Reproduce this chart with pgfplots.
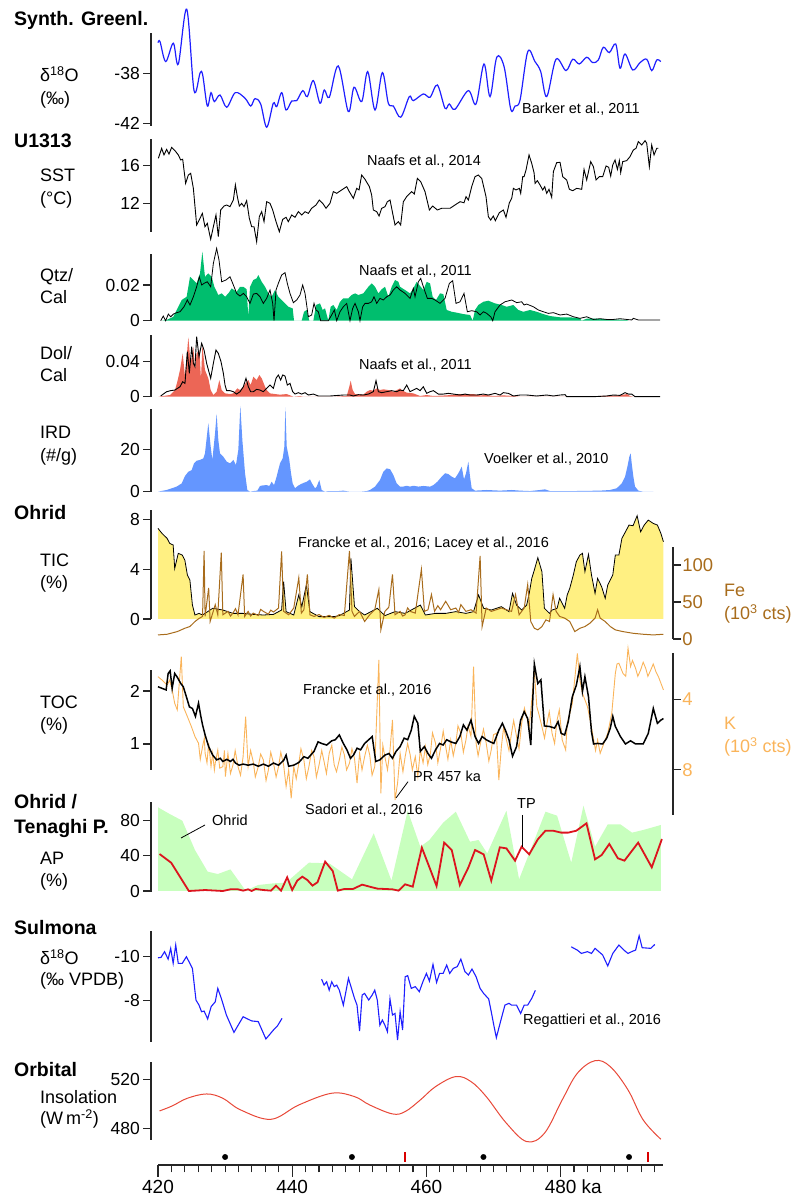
\documentclass[border=0pt]{standalone}
\usepackage{fontspec}
\setmainfont{Liberation Sans}
\usepackage{pgfplots}
\usepackage{pgfplotstable}
\pgfplotsset{compat=1.18}
\newcommand\fs[1]{\fontsize{#1bp}{#1bp}\selectfont}

\definecolor{grnblue}{RGB}{30,30,255}
\definecolor{qtzgreen}{RGB}{0,190,110}
\definecolor{dolred}{RGB}{236,102,86}
\definecolor{irdblue}{RGB}{100,150,255}
\definecolor{ticyellow}{RGB}{255,240,130}
\definecolor{febrown}{RGB}{168,108,28}
\definecolor{korange}{RGB}{250,180,90}
\definecolor{apgreen}{RGB}{200,255,190}
\definecolor{apred}{RGB}{220,20,30}
\definecolor{insred}{RGB}{232,72,56}

% --- Synthetic Greenland d18O
\pgfplotstableread{
x y
420.0 -35.55
420.3 -35.47
421.15 -37.07
422.28 -35.6
423.03 -37.26
424.28 -32.88
425.37 -39.39
426.26 -38.0
426.66 -38.14
427.35 -40.62
427.9 -39.55
428.39 -40.27
429.24 -39.74
430.24 -40.72
431.52 -39.55
432.97 -40.0
433.82 -40.62
434.46 -40.03
435.3 -40.46
436.2 -42.32
437.18 -40.4
437.69 -40.67
438.44 -39.55
439.08 -40.94
439.93 -40.22
440.67 -40.19
441.57 -39.39
442.25 -39.87
443.15 -38.59
444.14 -40.4
444.78 -39.34
445.53 -39.92
446.87 -37.42
448.36 -41.07
449.21 -39.12
450.36 -40.27
451.25 -37.87
452.34 -40.94
453.43 -37.95
454.32 -40.4
455.07 -40.62
456.17 -41.52
457.45 -39.87
458.05 -40.19
459.54 -39.66
460.54 -39.92
461.63 -38.94
462.77 -40.8
463.41 -40.46
464.26 -40.88
466.24 -39.39
467.39 -40.46
468.58 -37.26
469.48 -39.87
470.48 -36.72
471.57 -37.47
472.57 -40.88
473.21 -40.62
473.95 -40.14
475.1 -36.27
476.18 -37.07
477.03 -37.87
477.93 -39.87
479.31 -36.88
480.8 -37.79
481.8 -36.88
482.78 -37.26
483.89 -36.72
484.78 -37.15
485.62 -36.94
486.36 -35.92
487.26 -36.35
488.21 -35.66
488.85 -37.6
489.6 -36.46
490.75 -37.74
491.83 -37.15
492.83 -36.88
493.58 -37.79
494.32 -36.94
494.92 -37.07
}\greenl

% --- U1313 SST
\pgfplotstableread{
x y
420.05 16.78
420.55 17.85
420.89 17.14
421.29 17.74
421.64 17.24
422.04 17.95
422.53 17.6
423.03 17.14
423.38 16.61
423.68 16.68
424.12 14.12
424.52 15.01
424.87 15.19
425.27 13.59
425.76 9.69
426.26 10.40
426.61 10.93
427.0 9.51
427.35 9.87
427.85 8.17
428.25 9.51
428.64 10.76
428.99 8.45
429.34 11.29
429.84 11.71
430.23 11.82
430.73 11.64
431.23 12.35
431.53 13.95
431.82 12.71
432.12 11.71
432.47 11.99
432.82 11.64
433.21 12.28
433.61 10.40
433.96 9.51
434.31 9.51
434.7 7.92
435.1 10.58
435.45 11.11
435.8 10.05
436.19 12.17
436.69 12.0
437.09 11.29
437.59 10.05
438.08 8.98
438.58 10.29
439.08 10.51
439.42 10.05
439.92 10.76
440.42 10.51
440.91 11.11
441.41 10.76
441.91 11.11
442.4 10.93
442.9 11.47
443.55 11.82
444.04 12.35
444.54 12.0
445.04 11.47
445.63 12.0
446.13 13.24
446.63 13.06
447.37 13.42
448.12 13.77
448.51 13.24
449.11 12.53
449.61 13.59
449.96 13.42
450.35 15.01
450.85 14.55
451.5 13.77
451.84 12.88
452.09 11.29
452.59 11.11
452.94 10.65
453.33 11.47
453.83 11.64
454.18 12.17
454.58 12.35
454.97 10.93
455.32 9.69
455.82 10.05
456.16 9.69
456.56 12.17
457.06 12.71
457.8 13.24
458.2 12.99
458.65 14.65
459.15 14.30
459.79 13.24
460.44 11.29
460.93 11.71
461.63 11.29
462.28 11.47
463.52 11.47
464.26 11.82
465.01 12.17
465.6 12.06
465.9 12.71
466.25 12.35
466.75 13.77
467.24 14.83
467.74 15.01
468.24 14.65
468.88 12.71
469.23 10.58
469.58 10.22
469.97 10.65
470.27 10.15
470.87 11.0
471.47 11.29
471.86 10.51
472.36 12.06
472.71 12.53
472.96 13.59
473.35 13.42
473.85 13.59
474.05 13.06
474.35 14.83
474.55 14.83
474.84 15.54
475.29 17.14
475.69 16.25
476.04 15.26
476.19 14.12
476.53 14.41
476.93 13.95
477.33 13.42
477.63 13.77
477.92 13.06
478.27 13.49
478.67 12.64
478.92 15.37
479.41 16.32
479.91 16.36
480.31 14.83
480.9 14.48
481.3 13.49
481.8 13.34
482.39 13.59
483.14 13.49
483.49 15.61
483.88 14.48
484.48 16.43
484.88 15.9
485.28 14.48
485.77 14.83
486.27 14.83
486.77 15.97
487.16 15.83
487.46 14.9
487.76 16.07
488.11 16.61
488.46 15.61
488.75 16.54
488.95 15.26
489.25 16.43
489.85 16.54
490.34 16.96
490.84 17.67
491.24 17.85
491.58 18.56
492.08 18.2
492.58 18.66
492.83 18.38
493.22 15.9
493.57 18.2
493.92 17.14
494.32 17.85
494.57 17.85
}\sst

% --- Qtz/Cal: line and shaded series
\pgfplotstableread{
x y
420.4 0
420.79 0.0026
421.14 0
421.54 0.0037
421.89 0.0022
422.29 0.0037
422.78 0.0045
423.28 0.005
423.87 0.0078
424.37 0.0116
424.77 0.0088
425.27 0.0134
425.76 0.019
426.16 0.0246
426.51 0.02
426.86 0.0209
427.35 0.0218
427.85 0.019
428.25 0.0321
428.74 0.0405
429.09 0.034
429.49 0.0218
430.13 0.0228
430.73 0.0246
431.23 0.02
431.72 0.0153
432.22 0.0138
432.72 0.0153
433.21 0.0134
433.71 0.0097
434.21 0.0149
434.7 0.0153
435.2 0.0134
435.7 0.0097
436.19 0.0125
436.69 0.0172
437.09 0.0097
437.29 0
437.59 0.0172
437.93 0.0209
438.43 0.0256
438.93 0.0269
439.27 0.0209
439.67 0.0153
440.17 0.0101
440.67 0.0116
441.16 0.0144
441.56 0.02
441.91 0.0153
442.4 0.0022
442.9 0.0032
443.25 0.0097
443.55 0.006
443.89 0.005
444.24 0
445.38 0
445.88 0.0032
446.28 0.006
446.63 0
447.12 0.005
447.62 0.0078
448.12 0.0097
448.61 0
449.01 0.0069
449.36 0.0097
449.86 0.005
450.1 0
450.5 0.0078
450.85 0.0097
451.35 0.0097
451.84 0.0106
452.19 0.0134
452.59 0.0097
453.08 0.0125
453.58 0.0116
454.08 0.0134
454.58 0.0144
455.07 0.0172
455.57 0.019
456.07 0.0172
456.81 0.0153
457.56 0.0125
458.05 0.0181
458.3 0.0134
458.8 0.0218
459.15 0.0237
459.54 0.019
460.14 0.0125
460.78 0.0125
461.28 0.0116
462.03 0.0097
462.77 0.0125
463.42 0.0209
463.91 0.0224
464.41 0.0097
465.01 0.0106
465.6 0.0153
466.1 0.005
466.75 0.0056
467.49 0.005
467.99 0.0032
468.49 0.005
468.98 0.0041
469.58 0.0022
469.88 0
470.22 0.005
470.97 0.0088
471.71 0.0106
472.71 0.0116
473.45 0.0101
474.2 0.0106
474.55 0.0088
474.94 0.0093
475.94 0.0078
476.68 0.006
477.43 0.005
478.17 0.0041
478.92 0.0045
479.91 0.0032
480.9 0.0037
481.9 0.0022
482.89 0.0013
483.88 0.0022
484.88 0.0007
485.87 0.0011
486.87 0.0007
487.86 0.0007
488.85 0.0011
489.85 0.0007
490.59 0.0004
490.84 0.0013
491.58 0.0004
492.83 0.0004
494.81 0.0004
}\qtzline
\pgfplotstableread{
x y
420.55 0
421.29 0.0004
422.29 0.0022
422.78 0.006
423.53 0.0116
424.27 0.0134
424.77 0.0246
425.27 0.0228
425.76 0.0209
426.26 0.0265
426.61 0.0387
427.0 0.0246
427.5 0.0265
428.0 0.0246
428.4 0.019
428.99 0.0144
429.49 0.0153
429.99 0.0134
430.48 0.0153
430.98 0.0181
431.72 0.0162
432.22 0.019
432.72 0.019
433.21 0.0176
433.46 0.0022
433.71 0.019
434.21 0.0228
434.7 0.0237
434.95 0.0256
435.45 0.0218
435.95 0.019
436.44 0.0153
436.94 0.0134
437.44 0.0172
437.93 0.0134
438.43 0.0116
438.93 0.0097
439.42 0.0078
440.07 0.0069
440.27 0
441.41 0
441.76 0.005
442.16 0.006
442.55 0
443.15 0
443.55 0.0088
444.14 0.0097
444.54 0.006
444.89 0.0069
445.38 0
445.73 0.0078
446.13 0.0088
446.63 0.006
447.12 0.0106
447.62 0.0125
448.37 0.0125
448.86 0.0144
449.36 0.0153
449.86 0.0144
450.6 0.0153
451.35 0.019
451.84 0.0209
452.34 0.019
452.84 0.0153
453.33 0.0176
453.83 0.019
454.33 0.0134
454.82 0.019
455.32 0.0228
455.82 0.0218
456.07 0.019
456.81 0.0172
457.56 0.0153
458.05 0.0181
458.55 0.0218
459.15 0.019
459.54 0.0172
460.04 0.0218
460.54 0.0209
460.93 0.0134
461.43 0.0116
462.03 0.0153
462.52 0.0149
463.02 0.006
463.77 0.005
464.51 0.0045
465.5 0.0037
466.5 0.0032
466.9 0
467.24 0.006
467.74 0.0088
468.49 0.0106
469.23 0.0112
470.22 0.0097
471.22 0.0088
471.96 0.0078
472.96 0.0088
473.7 0.006
474.45 0.005
475.44 0.006
476.43 0.005
477.43 0.0037
478.42 0.0026
479.91 0.0019
481.4 0.0019
482.89 0.0013
483.14 0
483.88 0.0011
485.38 0.0011
487.86 0.0007
489.85 0.0004
490.1 0
}\qtzfill

% --- Dol/Cal
\pgfplotstableread{
x y
420.4 0.0008
420.79 0.003
421.29 0.0057
421.89 0.0069
422.53 0.0076
423.28 0.0114
423.68 0.0171
424.02 0.0152
424.37 0.0514
424.67 0.0267
425.02 0.0571
425.27 0.0381
425.51 0.0343
425.76 0.0686
426.11 0.0457
426.51 0.061
426.86 0.0533
427.25 0.0381
427.65 0.0267
427.85 0.021
428.25 0.0381
428.64 0.0533
428.99 0.0495
429.39 0.04
429.74 0.0267
429.99 0.0133
430.23 0.0069
430.73 0.0069
431.23 0.0057
431.72 0.003
432.22 0.0057
432.72 0.0114
433.11 0.021
433.46 0.0114
433.81 0.0057
434.21 0.0057
434.7 0.0084
435.2 0.0076
435.7 0.0057
436.19 0.0095
436.69 0.0133
437.19 0.0095
437.59 0.021
437.93 0.0248
438.28 0.019
438.58 0.0248
438.93 0.0236
439.27 0.0133
439.67 0.0152
440.07 0.0057
440.42 0.003
440.91 0.0046
441.41 0.003
441.91 0.0046
442.4 0.0019
443.15 0.003
443.89 0.0008
445.63 0.0008
447.62 0.0019
448.61 0.0019
449.11 0.0008
449.86 0.0023
450.6 0.0019
451.35 0.003
452.09 0.0057
452.49 0.0183
452.84 0.0057
453.33 0.0046
454.08 0.0057
454.82 0.0069
455.57 0.0057
456.07 0.0076
456.56 0.0069
457.06 0.0133
457.56 0.0057
458.05 0.0076
458.55 0.0095
459.05 0.0069
459.54 0.0114
460.04 0.0038
460.54 0.0057
461.03 0.0069
461.78 0.003
462.52 0.003
463.27 0.0038
464.01 0.003
465.01 0.0019
465.75 0.003
466.5 0.0019
467.49 0.0019
468.49 0.003
469.23 0.0019
470.22 0.0038
470.97 0.0019
471.47 0.0046
472.21 0.0038
472.96 0.0008
473.95 0.0019
474.94 0.0019
476.43 0.0008
477.92 0.0019
478.92 0.0008
479.91 0.0019
480.66 0.0023
480.9 0
484.88 0
486.87 0.0008
487.86 0.0019
488.85 0.0015
489.6 0.0046
490.1 0.003
490.59 0.003
491.09 0
494.81 0
}\dolline
\pgfplotstableread{
x y
420.05 0
420.79 0.0008
421.79 0.0019
422.53 0.0076
422.88 0.0171
423.28 0.0305
423.68 0.0495
424.02 0.0229
424.52 0.0678
424.87 0.0381
425.27 0.0571
425.51 0.0305
425.76 0.0495
426.16 0.0533
426.41 0.019
426.61 0.059
427.0 0.0305
427.5 0.021
427.85 0.0076
428.25 0.0019
428.74 0.0057
429.14 0.019
429.49 0.0076
429.99 0.0038
430.73 0.003
431.23 0.0038
431.82 0.0095
432.22 0.0076
432.72 0.0114
433.11 0.016
433.46 0.019
433.81 0.0133
434.21 0.0229
434.7 0.019
435.1 0.0248
435.45 0.021
435.95 0.0114
436.19 0.0076
436.69 0.0038
437.44 0.003
438.18 0.0023
439.18 0.003
439.92 0.0008
440.17 0
441.16 0.0008
441.66 0
446.13 0
448.12 0.0008
448.51 0.0114
448.71 0.0183
449.01 0.0076
449.36 0.003
450.6 0.0023
451.1 0.0057
451.59 0.0076
452.09 0.0069
452.59 0.0095
453.08 0.0076
453.58 0.0084
454.33 0.0076
455.07 0.0057
455.82 0.0084
456.07 0.0095
456.31 0.0076
457.06 0.0046
458.05 0.0038
459.05 0.0008
460.04 0.0019
461.03 0.0008
463.02 0.0015
465.01 0.003
467.0 0.003
467.99 0.0015
468.98 0.0019
469.97 0.0008
471.47 0.0015
472.96 0.0008
473.95 0
484.88 0
485.87 0.0008
488.85 0.0015
489.85 0.003
490.34 0.0008
490.84 0
}\dolfill

% --- IRD
\pgfplotstableread{
x y
420.0 0
420.79 0.5
421.29 0.8
422.04 1.6
422.78 2.4
423.53 3.9
424.02 7.4
424.52 9.4
425.02 10.2
425.37 13.4
425.76 14.6
426.26 15.0
426.76 15.7
427.0 18.1
427.5 32.3
427.85 21.3
428.1 15.0
428.5 27.6
428.74 36.7
428.99 24.4
429.24 18.1
429.74 16.5
430.23 14.2
430.73 13.4
431.23 15.0
431.62 12.6
431.97 19.7
432.27 40.5
432.57 24.4
432.97 8.7
433.31 0.8
433.71 0
434.21 0.3
434.8 0.5
435.2 2.7
435.7 3.0
436.19 3.1
436.59 2.7
436.94 4.7
437.29 3.1
437.68 7.1
438.18 13.4
438.58 15.7
438.83 21.3
438.98 39.8
439.18 21.3
439.57 15.0
439.82 8.7
440.07 3.9
440.42 1.6
440.81 2.7
441.31 3.6
441.81 4.3
442.16 4.7
442.65 5.8
442.95 3.9
443.4 1.6
443.65 2.4
444.04 5.5
444.39 0.8
444.89 0
445.38 0.3
446.88 0.3
447.62 0.5
448.61 0
450.1 0
451.1 0.3
451.59 0.8
452.34 2.4
453.08 5.5
453.58 9.4
454.08 11.0
454.58 10.6
455.07 7.9
455.57 3.9
456.07 2.4
456.56 2.4
457.06 2.8
457.56 2.4
458.05 2.8
458.8 2.4
459.54 2.7
460.54 2.4
461.03 3.1
461.63 4.7
462.28 7.1
462.77 8.7
463.27 8.3
463.77 7.1
464.26 6.3
464.76 8.7
465.26 11.8
465.6 5.8
465.9 8.7
466.25 14.2
466.5 7.1
466.75 1.6
467.24 0.5
468.98 0.8
470.97 0.5
472.71 0.8
473.95 0.5
475.44 0.3
476.93 0.8
477.68 1.1
478.42 0.3
481.9 0.3
485.87 0.5
487.36 0.8
488.35 1.6
489.1 3.9
489.6 7.1
489.95 11.8
490.24 16.5
490.44 18.1
490.59 13.4
490.84 7.1
491.09 2.4
491.58 0.5
492.33 0
493.82 0
}\ird

% --- Ohrid TIC
\pgfplotstableread{
x y
420.0 7.27
420.6 6.87
421.36 6.47
421.74 6.07
422.26 5.94
422.49 4.06
423.02 5.27
423.62 5.13
424.0 4.73
424.38 3.53
424.75 3.13
425.13 1.12
425.51 0.32
426.11 0.45
426.64 0.32
427.4 0.59
428.15 0.86
429.66 0.72
431.17 0.45
432.68 0.45
434.19 0.37
435.7 0.32
437.21 0.37
438.42 0.72
438.72 2.99
439.09 0.59
440.23 0.32
440.98 1.93
441.43 0.99
442.11 2.73
442.64 0.59
444.0 0.19
446.26 0.19
447.02 0.27
448.53 0.72
448.75 4.87
449.28 0.99
450.04 0.59
450.79 0.32
452.68 0.86
453.81 0.27
455.32 0.59
456.83 0.45
459.09 1.12
459.85 0.32
461.36 0.45
462.87 0.45
464.38 0.59
465.89 0.45
467.02 0.59
467.77 1.93
468.53 0.86
469.66 0.72
471.17 0.99
472.3 0.59
472.83 2.06
473.43 1.12
474.19 0.72
474.94 1.12
475.32 2.06
475.7 3.26
476.08 3.93
476.6 4.92
477.21 3.8
477.58 0.86
478.34 0.45
478.72 0.72
479.47 0.86
479.85 1.66
480.6 0.86
480.98 1.93
481.36 2.46
481.89 3.53
482.34 4.6
482.87 5.13
483.25 5.27
483.62 3.8
484.15 5.19
484.6 3.53
485.13 2.06
485.51 3.26
486.11 2.59
486.64 1.66
487.02 2.73
487.77 3.53
488.15 5.13
488.68 5.13
489.13 6.47
489.66 7.0
490.19 7.54
490.79 7.49
491.4 8.29
491.92 7.0
492.45 7.54
493.06 7.94
493.81 7.67
494.42 7.54
494.94 6.87
495.32 6.2
}\tic

% --- Ohrid Fe (10^3 cts)
\pgfplotstableread{
x y
420.0 5.5
421.36 6.4
422.87 10
424.0 14.5
424.75 16.8
425.51 23.6
426.04 27.3
426.64 30.5
426.87 119.1
427.02 30.5
427.55 69.1
427.77 23.6
428.15 35
428.53 46.4
428.91 32.7
429.43 116.8
429.66 32.7
430.42 37.3
430.8 31
431.17 35
431.55 41
431.92 32.7
432.68 87.3
432.91 30.5
433.43 37.3
433.8 31
434.19 35
434.94 31.8
435.3 40
435.7 37.3
436.45 33.6
436.8 39
437.21 36.4
437.96 41.8
438.42 118.2
438.72 37.3
439.47 32.7
440.23 41.8
440.98 82.7
441.36 35
441.74 39.5
442.26 87.3
442.64 32.7
443.25 30.5
444.0 33
444.75 29.1
445.5 32
446.26 28.2
447.0 33
447.77 31.8
448.53 119.1
448.91 37.3
449.28 30.5
450.04 37.3
450.79 23.6
451.55 32.7
452.3 39.5
452.91 66.8
453.21 12.3
453.81 37.3
454.4 43
454.94 87.3
455.32 32.7
456.08 37.3
456.45 31
456.83 32.7
457.2 42
457.58 37.3
458.34 35
459.25 94.1
459.7 37.3
460.23 39.5
460.75 60
461.21 37.3
461.7 45
462.11 39.5
462.87 50.9
463.62 39.5
464.38 41.8
464.8 36
465.13 46.4
465.89 37.3
466.64 39.5
467.4 35
468.0 112.3
468.3 16.8
468.91 41.8
469.66 37.3
470.42 39.5
471.17 41.8
471.92 39.5
472.68 37.3
473.28 60
473.81 32.7
474.57 41.8
475.09 73.6
475.55 23.6
476.08 14.5
476.6 12.3
477.21 16.8
477.81 25.9
478.34 23.6
478.87 60
479.32 37.3
479.85 30.5
480.6 28.2
481.36 23.6
482.11 10
482.87 14.5
483.62 16.8
484.38 21.4
485.13 28.2
485.51 39.5
485.89 28.2
486.64 23.6
487.4 16.8
488.15 12.3
489.28 10
490.79 7.7
492.3 6.4
493.81 5.5
495.32 6.4
}\fe

% --- Ohrid TOC
\pgfplotstableread{
x y
420.0 2.08
420.6 2.05
421.21 2.02
421.51 2.33
421.81 2.38
422.11 2.05
422.49 2.33
422.87 2.26
423.4 2.14
423.77 2.08
424.23 1.89
424.68 1.7
425.13 1.67
425.58 1.52
426.04 1.77
426.34 1.55
426.64 1.36
427.02 1.17
427.55 0.95
428.15 0.79
428.75 0.7
429.28 0.73
429.66 0.67
430.26 0.71
430.79 0.67
431.17 0.71
431.55 0.64
432.08 0.6
432.68 0.62
433.43 0.6
434.19 0.62
434.94 0.58
435.7 0.62
436.45 0.58
437.21 0.64
437.96 0.6
438.72 0.69
439.09 0.79
439.47 0.58
440.23 0.6
440.98 0.65
441.74 0.76
442.34 0.73
443.25 0.86
443.85 1.04
444.38 1.01
445.13 0.98
445.89 1.06
446.42 1.08
447.02 1.17
447.62 1.01
448.15 0.89
448.68 0.73
449.13 0.79
449.66 0.92
450.19 0.89
450.79 1.01
451.4 1.08
451.92 1.14
452.45 0.67
453.06 0.7
453.81 0.79
454.42 0.82
454.94 0.73
455.47 0.86
456.08 0.95
456.68 1.11
457.21 1.08
457.74 1.26
458.19 1.52
458.72 1.39
459.09 0.86
459.7 0.95
460.23 0.82
460.75 0.73
461.36 0.89
461.96 1.01
462.49 0.98
463.02 1.08
463.62 1.04
464.38 1.01
464.98 1.14
465.51 1.36
466.04 1.26
466.64 1.45
467.25 1.14
467.77 1.01
468.3 1.14
468.91 1.08
469.51 1.04
470.04 1.01
470.79 1.26
471.32 1.39
471.77 1.26
472.3 1.08
472.83 0.77
473.43 0.95
474.04 1.45
474.57 1.61
475.09 1.48
475.55 0.98
476.08 2.51
476.6 2.14
477.06 2.21
477.58 1.34
478.34 1.33
479.09 1.3
479.62 1.42
480.08 1.2
480.6 1.17
481.13 1.42
481.74 1.89
482.34 2.11
482.87 2.46
483.25 1.99
483.62 2.27
484.15 1.89
484.6 1.23
484.91 1.0
485.51 1.01
486.26 1.0
486.87 1.11
487.4 1.3
487.77 1.52
488.15 1.33
488.91 1.14
489.66 1.0
490.42 1.06
491.17 1.0
492.3 1.0
493.06 1.2
493.81 1.67
494.42 1.39
494.94 1.45
495.32 1.48
}\toc

% --- Ohrid K (10^3 cts)
\pgfplotstableread{
x y
420.0 2.72
420.6 2.91
421.36 3.19
421.74 2.91
422.11 3.47
422.49 4.23
422.87 4.6
423.47 1.58
423.77 4.42
424.38 4.98
424.98 5.55
425.51 6.11
426.04 6.49
426.3 7.4
426.64 6.68
426.9 6.2
427.02 7.06
427.3 7.6
427.55 6.49
427.9 7.8
428.15 7.06
428.4 8.0
428.53 7.62
428.91 6.87
429.2 7.9
429.66 7.81
429.9 6.9
430.04 8.38
430.42 7.06
430.8 8.2
431.17 7.72
431.5 6.9
431.92 7.81
432.3 8.3
432.68 7.25
433.06 4.98
433.43 7.81
433.8 6.9
434.19 7.53
434.5 8.4
434.94 7.81
435.3 7.1
435.7 7.43
436.1 8.6
436.45 8.0
436.8 7.0
437.21 7.62
437.6 8.4
437.96 7.81
438.3 7.0
438.72 7.72
439.09 8.94
439.47 8.0
439.85 9.6
440.23 7.81
440.6 8.5
440.98 7.62
441.3 6.8
441.74 7.43
442.1 8.5
442.49 7.81
442.9 6.9
443.25 7.25
443.6 8.4
444.0 7.72
444.4 6.9
444.75 7.53
445.1 8.2
445.51 7.06
445.9 6.6
446.26 7.72
446.6 8.1
447.02 7.43
447.4 6.7
447.77 7.15
448.1 8.0
448.53 7.62
448.9 6.8
449.28 7.34
449.66 8.75
450.04 7.06
450.4 8.0
450.79 7.25
451.2 6.6
451.55 7.15
451.9 8.3
452.3 7.81
452.91 1.77
453.21 9.32
453.5 6.6
453.81 7.25
454.2 8.0
454.57 6.87
454.94 5.17
455.32 9.7
455.7 8.75
456.08 7.06
456.5 8.1
456.83 7.25
457.2 6.5
457.58 7.15
457.9 8.0
458.34 7.25
458.72 8.38
459.09 6.87
459.5 7.6
459.85 6.68
460.2 7.7
460.6 7.06
460.9 5.9
461.36 6.49
461.7 7.6
462.11 6.77
462.5 5.8
462.87 6.68
463.2 7.4
463.62 6.3
464.0 7.2
464.38 6.49
464.7 5.5
465.13 5.92
465.5 7.0
465.89 6.3
466.2 5.5
466.64 6.11
467.02 2.15
467.4 6.49
467.7 7.2
468.15 6.3
468.5 5.7
468.91 6.49
469.3 7.5
469.66 6.87
470.0 6.0
470.42 5.92
470.79 8.57
471.17 6.68
471.5 5.6
471.92 6.3
472.3 6.9
472.68 5.92
473.0 5.2
473.43 6.11
473.8 6.8
474.19 5.36
474.6 4.5
474.94 4.98
475.3 5.6
475.7 4.04
476.08 2.34
476.45 4.42
476.8 4.9
477.21 5.55
477.6 6.2
477.96 5.36
478.3 4.7
478.72 5.92
479.1 6.5
479.47 5.17
479.8 4.6
480.23 6.3
480.75 6.87
480.98 5.36
481.3 4.9
481.74 4.23
482.49 1.4
482.87 2.91
483.25 3.66
484.0 4.42
484.4 5.2
484.75 5.92
485.2 6.9
485.51 6.3
485.89 7.06
486.26 6.68
487.02 5.92
487.62 4.79
488.15 2.53
488.4 2.0
488.68 1.96
489.28 2.53
489.7 2.7
490.04 1.11
490.42 2.15
490.7 1.8
491.17 2.25
491.5 2.7
491.92 2.34
492.3 1.9
492.68 2.25
493.0 2.7
493.43 2.34
493.8 2.0
494.19 2.43
494.57 2.72
495.32 3.47
}\kk

% --- AP: Ohrid (shaded) and Tenaghi Philippon (line)
\pgfplotstableread{
x y
420.0 95.2
421.74 87.6
423.62 80.0
425.51 46.6
427.4 22.0
428.91 19.3
430.79 24.6
433.06 0.4
434.94 6.8
437.21 8.7
439.09 9.5
442.49 32.2
445.51 31.5
448.91 13.3
452.15 65.6
454.79 11.8
457.21 91.4
459.09 50.4
460.45 58.0
462.49 77.7
464.38 90.2
466.49 56.1
467.77 58.0
469.06 42.8
471.92 91.4
473.81 13.3
475.7 50.4
477.74 90.2
479.47 85.7
481.58 32.2
483.4 97.1
485.13 50.4
487.02 75.8
488.91 75.8
490.64 66.4
492.3 69.4
494.94 75.1
}\apohrid
\pgfplotstableread{
x y
420.23 42.1
421.96 32.2
424.6 0
427.02 1.1
429.66 0
430.79 1.9
431.92 1.9
432.68 0.4
433.43 1.9
433.96 0
434.57 2.3
435.7 1.1
436.83 0.4
437.58 6.1
438.34 0.4
439.25 15.5
440.0 1.1
440.75 11.8
441.51 16.3
442.26 12.5
443.02 6.1
443.77 9.9
444.91 33.4
446.04 22.7
446.79 0.4
447.77 2.3
449.06 2.3
450.42 7.2
451.55 4.9
452.68 2.7
453.81 2.3
454.94 1.9
455.85 0.4
456.83 7.6
457.96 4.9
459.32 49.3
460.45 26.9
461.51 5.7
462.64 55.0
463.77 46.6
464.98 6.8
466.26 26.9
467.25 46.6
468.53 41.7
469.66 11.8
470.94 49.7
471.92 48.5
473.21 34.5
474.19 50.4
475.32 41.7
476.6 58.8
477.74 68.6
478.87 68.6
480.08 66.4
481.13 66.4
482.34 68.6
483.85 77.0
485.13 36.0
486.11 40.9
487.25 53.5
488.53 37.2
489.51 34.5
491.55 55.0
493.58 26.9
495.09 59.1
}\aptp

% --- Sulmona d18O, three segments
\pgfplotstableread{
x y
420.0 -9.95
420.45 -9.97
420.98 -10.23
421.51 -9.89
421.89 -10.38
422.26 -9.7
422.64 -10.53
423.02 -9.7
423.62 -9.7
424.23 -10.0
424.75 -9.7
425.13 -9.47
425.66 -8.03
426.11 -7.8
426.49 -7.5
426.87 -7.53
427.4 -7.17
427.92 -7.73
428.53 -7.95
428.91 -8.56
429.43 -8.11
430.19 -7.35
431.32 -6.56
432.68 -7.27
433.96 -7.08
434.94 -7.05
436.08 -6.26
437.21 -6.67
437.81 -6.86
438.49 -7.2
}\sulA
\pgfplotstableread{
x y
444.38 -8.98
444.75 -8.71
445.13 -8.86
445.51 -8.48
445.89 -8.86
446.26 -8.64
446.64 -8.71
447.02 -8.48
447.62 -7.8
448.38 -9.02
449.28 -8.11
449.66 -7.8
450.04 -6.62
450.42 -8.26
450.79 -8.33
451.4 -8.03
451.92 -8.26
452.3 -8.48
452.68 -8.03
453.06 -6.89
453.43 -7.12
453.81 -6.89
454.19 -6.59
454.57 -8.08
454.94 -7.35
455.32 -7.42
455.7 -6.21
456.08 -7.5
456.45 -6.67
456.83 -9.09
457.21 -9.14
457.74 -8.56
458.34 -8.64
458.94 -8.41
459.47 -8.86
460.0 -9.24
460.45 -8.89
460.98 -9.65
461.51 -8.83
461.96 -9.24
462.49 -9.24
463.02 -9.62
463.47 -9.24
464.0 -9.47
464.6 -9.55
465.13 -9.89
465.74 -9.32
466.26 -9.17
466.79 -9.44
467.4 -9.09
468.0 -8.56
468.53 -8.33
469.28 -8.08
469.66 -7.5
470.04 -6.89
470.42 -6.32
471.17 -7.2
471.7 -7.8
472.3 -7.88
472.68 -7.8
473.43 -7.8
474.04 -7.42
474.57 -7.8
475.09 -7.8
475.7 -8.11
476.23 -8.47
}\sulB
\pgfplotstableread{
x y
481.58 -10.45
482.49 -10.3
483.09 -10.15
484.0 -10.23
484.6 -10.15
485.13 -10.38
486.26 -10.08
487.02 -9.58
487.77 -10.15
488.68 -10.53
489.43 -10.3
490.04 -10.15
490.79 -10.26
491.17 -10.3
491.7 -10.95
492.15 -10.41
493.43 -10.38
494.04 -10.56
}\sulC

% --- Insolation
\pgfplotstableread{
x y
420.23 494.15
422.11 498.2
424.38 504.5
427.25 508.0
429.66 504.5
432.3 495.0
436.83 487.3
440.98 499.0
445.89 508.6
449.28 505.85
451.55 499.0
454.94 491.7
456.83 493.6
459.09 503.1
461.36 514.0
464.38 522.2
466.64 518.1
468.91 505.85
471.92 484.1
474.94 469.1
477.58 475.9
480.23 503.1
482.49 524.9
485.13 535.2
487.4 530.3
490.04 511.3
492.3 486.8
494.94 471.0
}\ins

\pgfplotsset{
  panel/.style={
    scale only axis, anchor=south west, width=512.3bp,
    xmin=418.957, xmax=495.3,
    axis x line=none, axis y line*=left,
    axis line style={-, line width=1.1bp, black!85},
    clip=false, scaled y ticks=false,
    tick align=outside, major tick length=7.7bp,
    ytick style={line width=1.1bp, black!85},
    yticklabel style={font=\fs{17.5}},
    /pgf/number format/assume math mode=true,
  },
  rpanel/.style={
    panel, width=522bp, xmax=496.744, axis y line*=right,
    yticklabel style={font=\fs{18.5}, inner sep=1.5bp},
  },
}

\begin{document}
\begin{tikzpicture}
\useasboundingbox (0,0) rectangle (792bp,1199bp);

% Synth. Greenland
\begin{axis}[panel, at={(151bp,1073bp)}, height=93bp, ymin=-42.22, ymax=-34.78,
  ytick={-42,-38}, yticklabels={-42,-38}]
\addplot[grnblue, line width=1.2bp, smooth, tension=0.55] table {\greenl};
\end{axis}

% SST
\begin{axis}[panel, at={(151bp,967bp)}, height=93bp, ymin=8.95, ymax=18.84,
  ytick={12,16}, yticklabels={12,16}]
\addplot[black, line width=0.9bp] table {\sst};
\end{axis}

% Qtz/Cal
\begin{axis}[panel, at={(151bp,878.3bp)}, height=66.7bp, ymin=0, ymax=0.03737,
  ytick={0,0.02}, yticklabels={0,0.02}]
\addplot[draw=none, fill=qtzgreen] table {\qtzfill} \closedcycle;
\addplot[black, line width=0.8bp] table {\qtzline};
\end{axis}

% Dol/Cal
\begin{axis}[panel, at={(151bp,802.3bp)}, height=61.7bp, ymin=0, ymax=0.0705,
  ytick={0,0.04}, yticklabels={0,0.04}]
\addplot[draw=none, fill=dolred] table {\dolfill} \closedcycle;
\addplot[black, line width=0.9bp] table {\dolline};
\end{axis}

% IRD
\begin{axis}[panel, at={(151bp,707.3bp)}, height=82.7bp, ymin=0, ymax=39.0,
  ytick={0,20}, yticklabels={0,20}]
\addplot[draw=none, fill=irdblue] table {\ird} \closedcycle;
\end{axis}

% TIC
\begin{axis}[panel, at={(151bp,580bp)}, height=109bp, ymin=0, ymax=8.75,
  ytick={0,4,8}, yticklabels={0,4,8}]
\addplot[draw=none, fill=ticyellow] table {\tic} \closedcycle;
\addplot[black, line width=0.8bp] table {\tic};
\end{axis}
% Fe
\begin{axis}[rpanel, at={(151bp,560bp)}, height=92.3bp, ymin=0, ymax=124.7,
  ytick={0,50,100}, yticklabels={0,50,100},
  yticklabel style={text=febrown}]
\addplot[febrown, line width=1.0bp] table {\fe};
\end{axis}

% K (reversed)
\begin{axis}[rpanel, at={(151bp,384bp)}, height=162bp, y dir=reverse,
  ymin=1.38, ymax=10.55, ytick={4,8}, yticklabels={4,8},
  yticklabel style={text=korange}]
\addplot[korange, line width=0.9bp] table {\kk};
\end{axis}
% TOC
\begin{axis}[panel, at={(151bp,429bp)}, height=100bp, ymin=0.509, ymax=2.396,
  ytick={1,2}, yticklabels={1,2}]
\addplot[black, line width=1.5bp] table {\toc};
\end{axis}

% AP
\begin{axis}[panel, at={(151bp,307.3bp)}, height=90bp, ymin=-0.8, ymax=101.6,
  ytick={0,40,80}, yticklabels={0,40,80}]
\addplot[draw=none, fill=apgreen] table {\apohrid} \closedcycle;
\addplot[apred, line width=1.8bp] table {\aptp};
\end{axis}

% Sulmona (reversed)
\begin{axis}[panel, at={(151bp,157.3bp)}, height=110.7bp, y dir=reverse,
  ymin=-11.17, ymax=-6.136, ytick={-10,-8}, yticklabels={-10,-8}]
\addplot[grnblue, line width=1.1bp] table {\sulA};
\addplot[grnblue, line width=1.1bp] table {\sulB};
\addplot[grnblue, line width=1.1bp] table {\sulC};
\end{axis}

% Insolation
\begin{axis}[panel, at={(151bp,59bp)}, height=78bp, ymin=470.4, ymax=534.1,
  ytick={480,520}, yticklabels={480,520}]
\addplot[insred, line width=1.0bp, smooth, tension=0.6] table {\ins};
\end{axis}

% bottom time axis with markers
\begin{axis}[scale only axis, anchor=south west, at={(158bp,34bp)},
  width=504.6bp, height=16bp, xmin=420, xmax=495.2, ymin=0, ymax=1,
  axis y line=none, axis x line*=bottom,
  axis line style={-, line width=1.1bp, black!85},
  xtick={420,440,460,480}, xticklabels={420,440,460,{480\rlap{ ka}}},
  minor xtick={422,424,...,494},
  tick align=outside, major tick length=11.7bp, minor tick length=7.3bp,
  xtick style={line width=1.1bp, black!85},
  xticklabel style={font=\fs{19}}, clip=false]
\addplot[only marks, mark=*, mark size=2.7bp, black] coordinates {
  (430.0,0.5) (448.9,0.5) (468.5,0.5) (490.2,0.5)};
\addplot[only marks, mark=|, mark size=4.6bp,
  mark options={line width=2.6bp, color=red!85!black}] coordinates {
  (456.8,0.5) (493.0,0.5)};
\end{axis}

% titles
\begin{scope}[every node/.style={anchor=base west, inner sep=0pt, font=\fs{19.5}\bfseries}]
\node at (14bp,1173bp) {Synth. Greenl.};
\node at (14bp,1051.7bp) {U1313};
\node at (14bp,679bp) {Ohrid};
\node at (14bp,390bp) {Ohrid /};
\node at (14bp,365bp) {Tenaghi P.};
\node at (14bp,264bp) {Sulmona};
\node at (14bp,122.3bp) {Orbital};
\end{scope}

% axis labels
\begin{scope}[every node/.style={anchor=base west, inner sep=0pt, font=\fs{18}}]
\node at (40bp,1117.3bp) {δ\textsuperscript{18}O};
\node at (40bp,1094bp) {(‰)};
\node at (40bp,1017.3bp) {SST};
\node at (40bp,994bp) {(°C)};
\node at (40bp,917.3bp) {Qtz/};
\node at (40bp,895bp) {Cal};
\node at (40bp,839bp) {Dol/};
\node at (40bp,817.3bp) {Cal};
\node at (40bp,760bp) {IRD};
\node at (40bp,737.3bp) {(\#/g)};
\node at (40bp,632.3bp) {TIC};
\node at (40bp,610.7bp) {(\%)};
\node at (40bp,490.7bp) {TOC};
\node at (40bp,468.3bp) {(\%)};
\node at (40bp,334bp) {AP};
\node at (40bp,312.3bp) {(\%)};
\node at (40bp,234.7bp) {δ\textsuperscript{18}O};
\node at (40bp,213bp) {(‰ VPDB)};
\node at (40bp,95bp) {Insolation};
\node at (40bp,74bp) {(W\,m\textsuperscript{-2})};
\node[text=febrown] at (724bp,602.3bp) {Fe};
\node[text=febrown] at (724bp,579bp) {(10\textsuperscript{3} cts)};
\node[text=korange] at (724bp,469bp) {K};
\node[text=korange] at (724bp,446.3bp) {(10\textsuperscript{3} cts)};
\end{scope}

% sources and notes
\begin{scope}[every node/.style={anchor=base west, inner sep=0pt, font=\fs{14.5}}]
\node at (522bp,1085.7bp) {Barker et al., 2011};
\node at (367bp,1033bp) {Naafs et al., 2014};
\node at (359bp,923.3bp) {Naafs et al., 2011};
\node at (359bp,829.7bp) {Naafs et al., 2011};
\node at (484bp,735.7bp) {Voelker et al., 2010};
\node at (298bp,651.7bp) {Francke et al., 2016; Lacey et al., 2016};
\node at (303bp,504.7bp) {Francke et al., 2016};
\node at (413bp,417.3bp) {PR 457 ka};
\node at (305bp,384bp) {Sadori et al., 2016};
\node at (517bp,390.7bp) {TP};
\node at (212bp,373.3bp) {Ohrid};
\node at (523bp,174bp) {Regattieri et al., 2016};
\end{scope}
\draw[line width=0.8bp] (408bp,417.3bp) -- (396bp,401bp);
\draw[line width=0.8bp] (522.5bp,384bp) -- (522.5bp,352.3bp);
\draw[line width=0.8bp] (205bp,374bp) -- (181bp,361bp);
\end{tikzpicture}
\end{document}
